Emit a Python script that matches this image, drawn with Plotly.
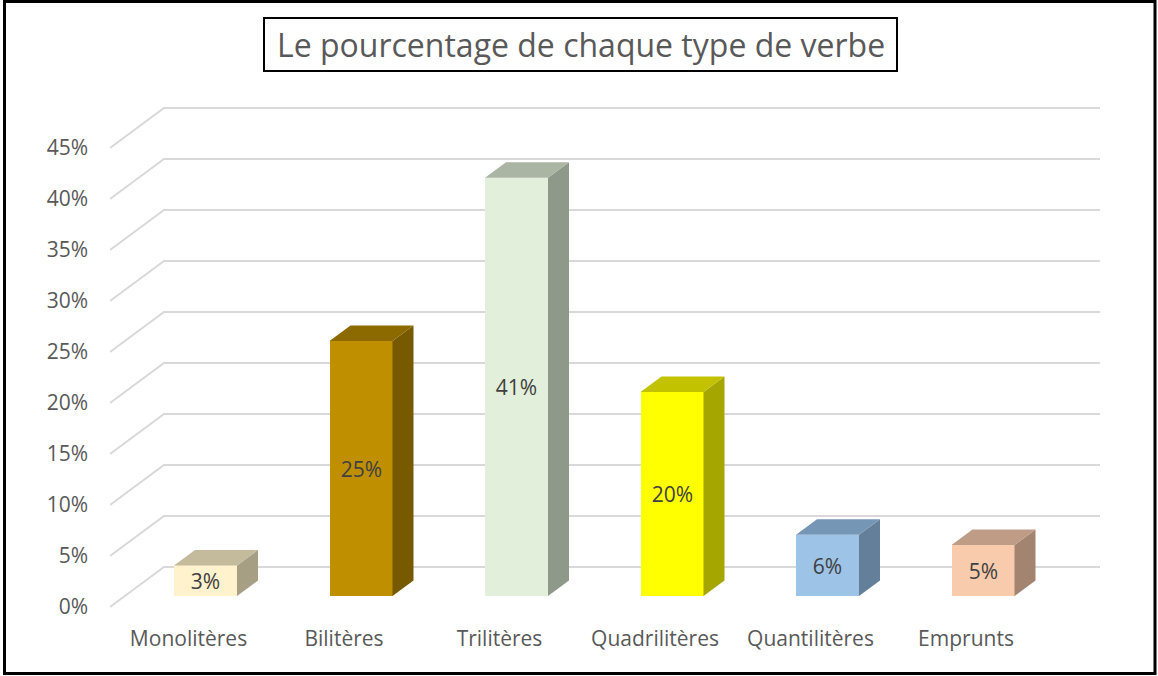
import plotly.graph_objects as go

# ---------------- data ----------------
categories = ["Monolitères", "Bilitères", "Trilitères", "Quadrilitères", "Quantilitères", "Emprunts"]
values = [3, 25, 41, 20, 6, 5]
y_ticks = [0, 5, 10, 15, 20, 25, 30, 35, 40, 45]
front_colors = ["#FFF2CC", "#BF8F00", "#E2EFDA", "#FFFF00", "#9DC3E6", "#F8CBAD"]
top_colors = ["#C3BB9C", "#8C6A00", "#AAB5A3", "#C2C200", "#7696B5", "#BE9C85"]
side_colors = ["#A69F84", "#775A00", "#8F998A", "#A6A600", "#647F9A", "#A38471"]
title_text = "Le pourcentage de chaque type de verbe"

FONT = "Open Sans"

# ---------------- geometry (pixels -> axis units) ----------------
W, H = 1158, 676
ml, mr, mt, mb = 110, 58, 97, 59
pw, ph = W - ml - mr, H - mt - mb
x_scale = 155.5          # px per category
y_scale = 10.2           # px per percent
x_min = -(188.5 - 110) / x_scale
x_max = x_min + pw / x_scale
y0_px = 607
y_min = -((H - mb) - y0_px) / y_scale
y_max = y_min + ph / y_scale

floor_dx = 54 / x_scale   # depth of floor
floor_dy = 40 / y_scale
bar_off_x = 17 / x_scale  # bar front face shift into depth
bar_base = 11 / y_scale
bar_w = 63 / x_scale
bar_dx = 21 / x_scale
bar_dy = 15.5 / y_scale

fig = go.Figure()

# front faces
xs = [i + bar_off_x for i in range(len(categories))]
fig.add_trace(go.Bar(
    x=xs, y=values, base=[bar_base] * len(values), width=bar_w,
    marker=dict(color=front_colors, line=dict(width=0)),
    text=[f"{v}%" for v in values], textposition="inside",
    insidetextanchor="middle", textangle=0, constraintext="none",
    textfont=dict(family=FONT, size=21, color="#404040"),
    hoverinfo="skip", showlegend=False))

# side and top faces
for i, v in enumerate(values):
    xl = xs[i] - bar_w / 2
    xr = xs[i] + bar_w / 2
    b = bar_base
    t = bar_base + v
    fig.add_trace(go.Scatter(
        x=[xr, xr + bar_dx, xr + bar_dx, xr, xr],
        y=[b, b + bar_dy, t + bar_dy, t, b],
        fill="toself", fillcolor=side_colors[i], mode="lines",
        line=dict(width=0, color=side_colors[i]),
        hoverinfo="skip", showlegend=False))
    fig.add_trace(go.Scatter(
        x=[xl, xr, xr + bar_dx, xl + bar_dx, xl],
        y=[t, t, t + bar_dy, t + bar_dy, t],
        fill="toself", fillcolor=top_colors[i], mode="lines",
        line=dict(width=0, color=top_colors[i]),
        hoverinfo="skip", showlegend=False))


def px_x(p):
    return (p - ml) / pw


def px_y(p):
    return 1 - (p - mt) / ph


grid_color = "#D9D9D9"
shapes = []
# oblique gridlines (below the bars)
for v in y_ticks:
    shapes.append(dict(
        type="path", xref="x", yref="y", layer="below",
        path=f"M {x_min},{v} L {x_min + floor_dx},{v + floor_dy} L {x_max},{v + floor_dy}",
        line=dict(color=grid_color, width=2)))

shapes += [
    dict(type="rect", xref="paper", yref="paper",
         x0=px_x(4.5), x1=px_x(1155), y0=px_y(673.5), y1=px_y(1.5),
         line=dict(color="black", width=3), layer="above"),
    dict(type="rect", xref="paper", yref="paper",
         x0=px_x(264), x1=px_x(897), y0=px_y(71), y1=px_y(18),
         line=dict(color="black", width=2), fillcolor="white", layer="above"),
]

fig.update_layout(
    width=W, height=H,
    margin=dict(l=ml, r=mr, t=mt, b=mb, pad=0),
    paper_bgcolor="white", plot_bgcolor="white",
    bargap=0, showlegend=False,
    shapes=shapes,
    annotations=[dict(
        text=title_text, xref="paper", yref="paper",
        x=px_x(580.5), y=px_y(45), xanchor="center", yanchor="middle",
        showarrow=False, font=dict(family=FONT, size=32, color="#595959"))],
    xaxis=dict(range=[x_min, x_max], tickmode="array",
               tickvals=list(range(len(categories))), ticktext=categories,
               showgrid=False, zeroline=False, showline=False,
               ticks="", ticklabelstandoff=7,
               tickfont=dict(family=FONT, size=21, color="#595959"),
               fixedrange=True),
    yaxis=dict(range=[y_min, y_max], tickmode="array",
               tickvals=y_ticks, ticktext=[f"{v}%" for v in y_ticks],
               showgrid=False, zeroline=False, showline=False,
               ticks="", ticklabelstandoff=21,
               tickfont=dict(family=FONT, size=21, color="#595959"),
               fixedrange=True),
)

fig.write_html("out.html", config={"displayModeBar": False},
               post_script="document.body.style.margin='0';document.body.style.overflow='hidden';")
